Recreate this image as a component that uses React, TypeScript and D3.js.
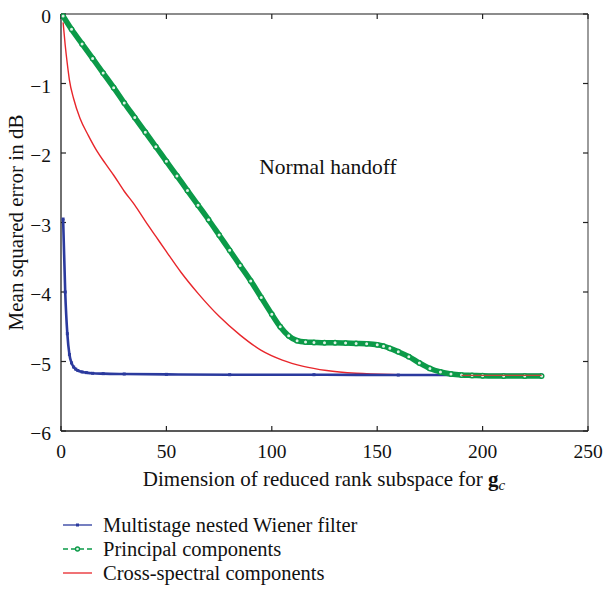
import React from "react";
import * as d3 from "d3";

// Multistage nested Wiener filter (blue)
const msnwfDim = [1, 2, 3, 4, 5, 6, 7, 8, 10, 12, 15, 20, 30, 50, 80, 120, 160, 200, 228];
const msnwfVal = [-2.95, -4.0, -4.6, -4.9, -5.02, -5.08, -5.11, -5.13, -5.15, -5.16, -5.17, -5.175, -5.18, -5.185, -5.19, -5.19, -5.195, -5.195, -5.195];

// Principal components (green)
const pcDim = [1, 5, 10, 15, 20, 25, 30, 35, 40, 45, 50, 55, 60, 65, 70, 75, 80, 85, 90, 95, 100, 104, 108, 112, 116, 120, 125, 130, 135, 140, 145, 150, 153, 156, 160, 165, 170, 175, 180, 185, 190, 195, 200, 210, 220, 228];
const pcVal = [-0.03, -0.22, -0.43, -0.64, -0.85, -1.06, -1.28, -1.49, -1.7, -1.91, -2.12, -2.33, -2.54, -2.75, -2.96, -3.18, -3.4, -3.62, -3.84, -4.08, -4.32, -4.5, -4.63, -4.7, -4.72, -4.725, -4.73, -4.73, -4.735, -4.74, -4.745, -4.76, -4.78, -4.81, -4.86, -4.93, -5.02, -5.1, -5.15, -5.18, -5.195, -5.2, -5.205, -5.21, -5.21, -5.21];

// Cross-spectral components (red)
const csDim = [1, 2, 3, 4, 6, 9, 13, 17, 21, 25, 30, 35, 40, 45, 50, 57, 65, 75, 85, 95, 105, 115, 126, 140, 160, 190, 228];
const csVal = [-0.12, -0.45, -0.72, -0.95, -1.22, -1.5, -1.75, -1.97, -2.15, -2.32, -2.55, -2.75, -2.98, -3.2, -3.42, -3.72, -4.02, -4.35, -4.62, -4.84, -4.98, -5.07, -5.13, -5.17, -5.19, -5.2, -5.2];

const xTicks = [0, 50, 100, 150, 200, 250];
const yTicks = [0, -1, -2, -3, -4, -5, -6];
const legendLabels = ["Multistage nested Wiener filter", "Principal components", "Cross-spectral components"];

const W = 608;
const H = 589;
const L = 61, R = 588, T = 14, B = 431;
const FONT = "'Liberation Serif', 'Times New Roman', serif";
const BLUE = "#2b3a9e";
const GREEN = "#0b9a48";
const RED = "#e8262b";

export default function App() {
  const x = d3.scaleLinear().domain([0, 250]).range([L, R]);
  const y = d3.scaleLinear().domain([-6, 0]).range([B, T]);
  const line = d3
    .line<[number, number]>()
    .x((d) => x(d[0]))
    .y((d) => y(d[1]))
    .curve(d3.curveMonotoneX);

  const blue = msnwfDim.map((d, i) => [d, msnwfVal[i]] as [number, number]);
  const green = pcDim.map((d, i) => [d, pcVal[i]] as [number, number]);
  const red = csDim.map((d, i) => [d, csVal[i]] as [number, number]);

  const legY = [525, 549, 573];
  const lx1 = 63, lx2 = 92, lxm = 77.5, tx = 103;

  return (
    <div style={{ position: "absolute", left: 0, top: 0 }}>
      <svg width={W} height={H} style={{ display: "block", background: "#fff" }}>
        <defs>
          <clipPath id="plot">
            <rect x={L} y={T - 3} width={R - L} height={B - T + 3} />
          </clipPath>
        </defs>
        {/* frame */}
        <line x1={L} y1={T} x2={R} y2={T} stroke="#666" strokeWidth={1.3} />
        <line x1={R} y1={T} x2={R} y2={B} stroke="#666" strokeWidth={1.3} />
        <line x1={L} y1={B} x2={R} y2={B} stroke="#222" strokeWidth={1.3} />
        <line x1={L} y1={T} x2={L} y2={B} stroke="#222" strokeWidth={1.3} />
        {xTicks.map((t) => (
          <g key={"x" + t}>
            <line x1={x(t)} x2={x(t)} y1={B} y2={B - 5} stroke="#222" strokeWidth={1.2} />
            <line x1={x(t)} x2={x(t)} y1={T} y2={T + 5} stroke="#222" strokeWidth={1.2} />
            <text x={x(t)} y={458} textAnchor="middle" fontFamily={FONT} fontSize={19.5} fill="#111">
              {t}
            </text>
          </g>
        ))}
        {yTicks.map((t) => (
          <g key={"y" + t}>
            <line x1={L} x2={L + 5} y1={y(t)} y2={y(t)} stroke="#222" strokeWidth={1.2} />
            <line x1={R} x2={R - 5} y1={y(t)} y2={y(t)} stroke="#222" strokeWidth={1.2} />
            <text x={51} y={y(t) + 9} textAnchor="end" fontFamily={FONT} fontSize={19.5} fill="#111">
              {t === 0 ? "0" : "\u2212" + Math.abs(t)}
            </text>
          </g>
        ))}

        <g clipPath="url(#plot)">
          <path d={line(red) || ""} fill="none" stroke={RED} strokeWidth={1.4} />
          <path d={line(blue) || ""} fill="none" stroke={BLUE} strokeWidth={2.6} />
          {blue.map((d, i) => (
            <rect key={"b" + i} x={x(d[0]) - 1.5} y={y(d[1]) - 1.5} width={3} height={3} fill={BLUE} />
          ))}
          <path d={line(green) || ""} fill="none" stroke={GREEN} strokeWidth={5.5} />
          {green.map((d, i) => (
            <circle key={"g" + i} cx={x(d[0])} cy={y(d[1])} r={2.2} fill="#dff2e6" stroke={GREEN} strokeWidth={1.4} />
          ))}
          <path d={line(red.filter((d) => d[0] >= 180)) || ""} fill="none" stroke="#c0473a" strokeWidth={1.4} />
        </g>

        <text x={328} y={174} textAnchor="middle" fontFamily={FONT} fontSize={21.5} fill="#111">
          Normal handoff
        </text>

        <text x={324} y={486} textAnchor="middle" fontFamily={FONT} fontSize={21} fill="#111">
          Dimension of reduced rank subspace for{" "}
          <tspan fontWeight="bold">g</tspan>
          <tspan fontStyle="italic" fontSize={15} dy={4}>c</tspan>
        </text>

        <text
          transform={`translate(23, ${(T + B) / 2}) rotate(-90)`}
          textAnchor="middle"
          fontFamily={FONT}
          fontSize={21}
          fill="#111"
        >
          Mean squared error in dB
        </text>

        <g>
          <line x1={lx1} x2={lx2} y1={legY[0]} y2={legY[0]} stroke={BLUE} strokeWidth={1.3} />
          <rect x={lxm - 1.5} y={legY[0] - 1.5} width={3} height={3} fill={BLUE} />
          <line x1={lx1} x2={lx2} y1={legY[1]} y2={legY[1]} stroke={GREEN} strokeWidth={1.3} strokeDasharray="5,3" />
          <circle cx={lxm} cy={legY[1]} r={2} fill="#dff2e6" stroke={GREEN} strokeWidth={1.3} />
          <line x1={lx1} x2={lx2} y1={legY[2]} y2={legY[2]} stroke={RED} strokeWidth={1.3} />
          {legendLabels.map((l, i) => (
            <text key={l} x={tx} y={legY[i] + 6.5} fontFamily={FONT} fontSize={20.5} fill="#111">
              {l}
            </text>
          ))}
        </g>
      </svg>
    </div>
  );
}
